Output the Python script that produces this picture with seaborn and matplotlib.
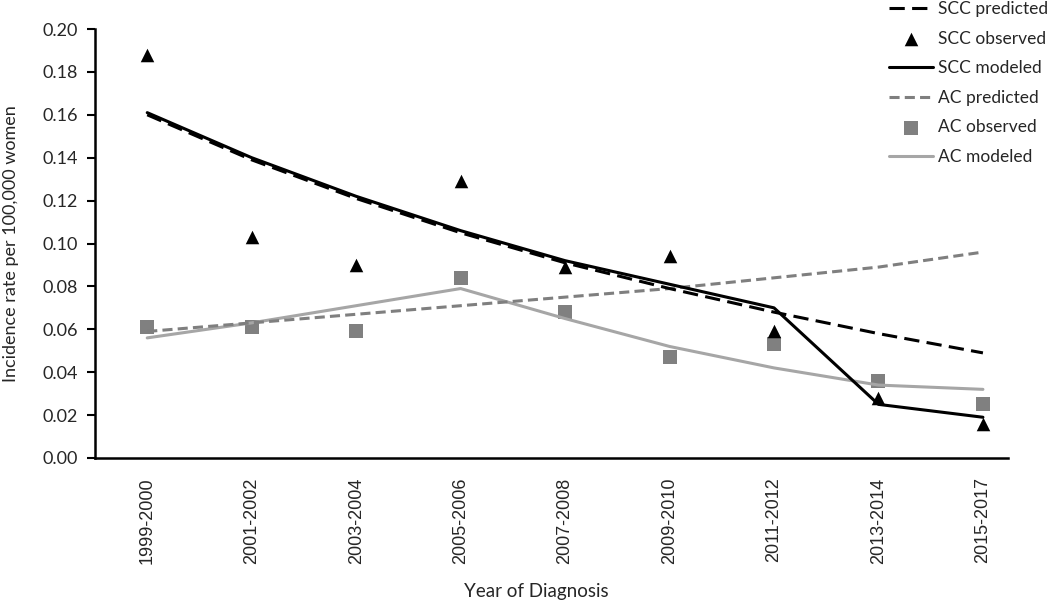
import matplotlib
matplotlib.use("Agg")
import matplotlib.pyplot as plt
import seaborn as sns
import pandas as pd
import numpy as np

periods = ["1999-2000", "2001-2002", "2003-2004", "2005-2006", "2007-2008",
           "2009-2010", "2011-2012", "2013-2014", "2015-2017"]
scc_predicted = [0.160, 0.139, 0.121, 0.105, 0.091, 0.079, 0.068, 0.058, 0.049]
scc_observed = [0.188, 0.103, 0.090, 0.129, 0.089, 0.094, 0.059, 0.028, 0.016]
scc_modeled = [0.161, 0.140, 0.122, 0.106, 0.092, 0.081, 0.070, 0.025, 0.019]
ac_predicted = [0.059, 0.063, 0.067, 0.071, 0.075, 0.079, 0.084, 0.089, 0.096]
ac_observed = [0.061, 0.061, 0.059, 0.084, 0.068, 0.047, 0.053, 0.036, 0.025]
ac_modeled = [0.056, 0.063, 0.071, 0.079, 0.065, 0.052, 0.042, 0.034, 0.032]
yticks = [0.00, 0.02, 0.04, 0.06, 0.08, 0.10, 0.12, 0.14, 0.16, 0.18, 0.20]

df = pd.DataFrame({"period": periods,
                   "scc_pred": scc_predicted, "scc_obs": scc_observed, "scc_mod": scc_modeled,
                   "ac_pred": ac_predicted, "ac_obs": ac_observed, "ac_mod": ac_modeled})

sns.set_theme(style="white")
plt.rcParams["font.family"] = ["Lato", "DejaVu Sans"]

fig = plt.figure(figsize=(10.5, 6.02), dpi=100)
ax = fig.add_axes([95/1050, (602-458)/602, (1008-95)/1050, (458-29)/602])

lw = 2.2
sns.lineplot(data=df, x="period", y="ac_mod", sort=False, ax=ax, color="#a6a6a6",
             linewidth=lw, label="AC modeled")
sns.lineplot(data=df, x="period", y="ac_pred", sort=False, ax=ax, color="#7f7f7f",
             linewidth=lw, dashes=(3.3, 1.7), label="AC predicted")
sns.lineplot(data=df, x="period", y="scc_pred", sort=False, ax=ax, color="black",
             linewidth=lw, dashes=(5, 2.4), label="SCC predicted")
sns.lineplot(data=df, x="period", y="scc_mod", sort=False, ax=ax, color="black",
             linewidth=lw, label="SCC modeled")
sns.scatterplot(data=df, x="period", y="ac_obs", ax=ax, marker="s", color="#808080",
                s=95, linewidth=0, label="AC observed")
sns.scatterplot(data=df, x="period", y="scc_obs", ax=ax, marker="^", color="black",
                s=95, linewidth=0, label="SCC observed")

ax.set_xlim(-0.5, 8.24)
ax.set_ylim(0, 0.20)
ax.set_yticks(yticks)
ax.set_yticklabels([f"{v:.2f}" for v in yticks], fontsize=13)
ax.set_xticks(range(len(periods)))
ax.set_xticklabels(periods, rotation=90, fontsize=13, family="Liberation Sans")
ax.tick_params(axis="y", which="both", left=True, length=6, width=1.5, color="black", pad=6)
ax.tick_params(axis="x", bottom=False, pad=8)
for s in ["top", "right"]:
    ax.spines[s].set_visible(False)
for s in ["left", "bottom"]:
    ax.spines[s].set_color("black")
    ax.spines[s].set_linewidth(1.8)

ax.set_xlabel("Year of Diagnosis", fontsize=13.5)
ax.set_ylabel("Incidence rate per 100,000 women", fontsize=13)
ax.xaxis.set_label_coords(0.483, -0.291)
ax.yaxis.set_label_coords(-0.083, 0.5)

handles, labels = ax.get_legend_handles_labels()
ax.get_legend().remove()
order = ["SCC predicted", "SCC observed", "SCC modeled", "AC predicted", "AC observed", "AC modeled"]
hmap = dict(zip(labels, handles))
fig.legend([hmap[l] for l in order], order, loc="upper right", bbox_to_anchor=(0.998, 0.998),
           frameon=False, fontsize=12.5, handlelength=2.5, handletextpad=0.3,
           labelspacing=0.78, borderpad=0, borderaxespad=0)

fig.savefig("out.png", dpi=100)
